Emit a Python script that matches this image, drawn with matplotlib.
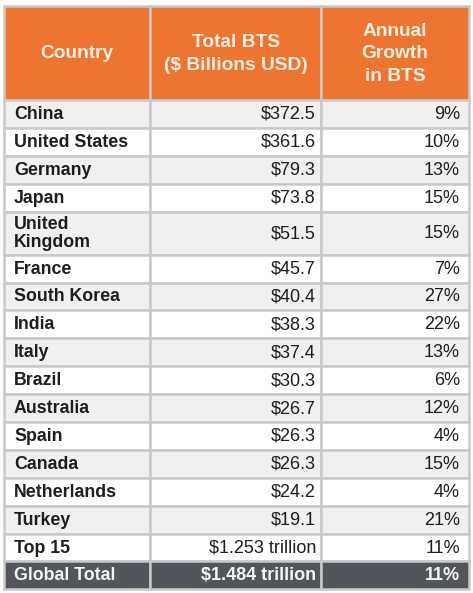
import matplotlib.pyplot as plt
from matplotlib.patches import Rectangle

plt.rcParams['font.family'] = ['Liberation Sans', 'DejaVu Sans']

headers = ["Country", "Total BTS\n($ Billions USD)", "Annual\nGrowth\nin BTS"]
countries = ["China", "United States", "Germany", "Japan", "United\nKingdom", "France",
             "South Korea", "India", "Italy", "Brazil", "Australia", "Spain", "Canada",
             "Netherlands", "Turkey", "Top 15", "Global Total"]
totals = ["$372.5", "$361.6", "$79.3", "$73.8", "$51.5", "$45.7", "$40.4", "$38.3",
          "$37.4", "$30.3", "$26.7", "$26.3", "$26.3", "$24.2", "$19.1",
          "$1.253 trillion", "$1.484 trillion"]
growth = ["9%", "10%", "13%", "15%", "15%", "7%", "27%", "22%", "13%", "6%", "12%",
          "4%", "15%", "4%", "21%", "11%", "11%"]

orange = "#EE7530"
grid = "#C9C9C9"
dark = "#52555C"

fig = plt.figure(figsize=(4.73, 5.93), dpi=100)
ax = fig.add_axes([0, 0, 1, 1])
ax.set_xlim(0, 473)
ax.set_ylim(593, 0)
ax.axis('off')

col_x = [4, 150, 321, 469]
pad_r = [5, 9]
top = 6
head_h = 94
row_h = 27.9
tall_h = 43

# header
for c in range(3):
    ax.add_patch(Rectangle((col_x[c], top), col_x[c + 1] - col_x[c], head_h,
                           facecolor=orange, edgecolor=grid, lw=1.8))
    ax.text((col_x[c] + col_x[c + 1]) / 2, top + head_h / 2 + 1, headers[c],
            ha='center', va='center', fontsize=13.8, fontweight='bold',
            color="#FBF0E4", linespacing=1.45)

y = top + head_h
for i, name in enumerate(countries):
    h = tall_h if "\n" in name else row_h
    last = i == len(countries) - 1
    if last:
        bg = dark
        fc = "#F4F4F4"
    else:
        bg = "#F0F0F0" if i % 2 == 0 else "white"
        fc = "#1E1E1E"
    for c in range(3):
        ax.add_patch(Rectangle((col_x[c], y), col_x[c + 1] - col_x[c], h,
                               facecolor=bg, edgecolor=grid, lw=1.8))
    cy = y + h / 2 + 0.5
    ax.text(col_x[0] + 10, cy, name, ha='left', va='center', fontsize=12.8,
            fontweight='bold', color=fc, linespacing=1.1)
    w = 'bold' if last else 'normal'
    ax.text(col_x[2] - pad_r[0], cy, totals[i], ha='right', va='center', fontsize=13,
            fontweight=w, color=fc)
    ax.text(col_x[3] - pad_r[1], cy, growth[i], ha='right', va='center', fontsize=13,
            fontweight=w, color=fc)
    y += h

plt.savefig("out.png", dpi=100)
